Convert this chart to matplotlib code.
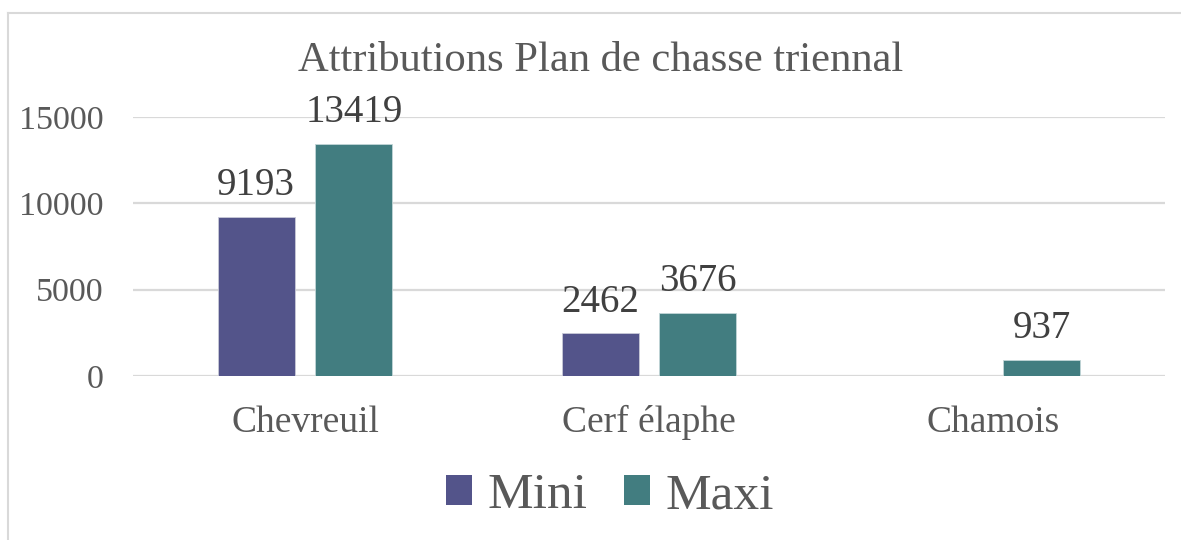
import matplotlib
matplotlib.use("Agg")
import matplotlib.pyplot as plt
from matplotlib.lines import Line2D
from matplotlib.patches import Patch
import numpy as np

categories = ["Chevreuil", "Cerf élaphe", "Chamois"]
mini = [9193, 2462, None]
maxi = [13419, 3676, 937]
yticks = [0, 5000, 10000, 15000]
titre = "Attributions Plan de chasse triennal"

couleur_mini = "#53548A"
couleur_maxi = "#427D80"
gris_texte = "#595959"
gris_grille = "#D9D9D9"

plt.rcParams["font.family"] = ["Liberation Serif", "DejaVu Serif"]

fig = plt.figure(figsize=(11.81, 5.4), dpi=100)
ax = fig.add_axes([0.1126, 0.3037, 0.8739, 0.4796])

x = np.arange(len(categories))
largeur = 0.224
decalage = 0.142
ecart_etiquette = 750

# barres, on saute les valeurs absentes
for i, v in enumerate(mini):
    if v is None:
        continue
    ax.bar(x[i] - decalage, v, largeur, color=couleur_mini, edgecolor="#C9CAD8", linewidth=0.6, zorder=3)
    ax.text(x[i] - decalage, v + ecart_etiquette, str(v), ha="center", va="bottom", fontsize=28, color="#404040")
for i, v in enumerate(maxi):
    ax.bar(x[i] + decalage, v, largeur, color=couleur_maxi, edgecolor="#C2D6D7", linewidth=0.6, zorder=3)
    ax.text(x[i] + decalage, v + ecart_etiquette, str(v), ha="center", va="bottom", fontsize=28, color="#404040")

ax.set_xlim(-0.5, 2.5)
ax.set_ylim(0, 15000)
ax.set_yticks(yticks)
ax.set_yticklabels([str(t) for t in yticks])
ax.set_xticks(x)
ax.set_xticklabels(categories)
ax.tick_params(axis="y", length=0, pad=21, labelsize=24.5, labelcolor=gris_texte)
ax.tick_params(axis="x", length=0, pad=21, labelsize=27, labelcolor=gris_texte)
ax.grid(axis="y", color=gris_grille, linewidth=1.6, zorder=0)
for s in ax.spines.values():
    s.set_visible(False)

fig.text(601 / 1181, 1 - 61 / 540, titre, ha="center", va="center", fontsize=30.7, color=gris_texte)

handles = [Patch(facecolor=couleur_mini, label="Mini"), Patch(facecolor=couleur_maxi, label="Maxi")]
fig.legend(handles=handles, loc="center", bbox_to_anchor=(610 / 1181, 1 - 496 / 540), ncol=2, frameon=False,
           fontsize=37, labelcolor=gris_texte, handlelength=0.5, handleheight=0.5,
           handletextpad=0.3, columnspacing=0.72)

# cadre du graphique (bords gauche et haut visibles)
fig.add_artist(Line2D([8 / 1181, 8 / 1181], [0, 1 - 13 / 540], color=gris_grille, linewidth=1.5))
fig.add_artist(Line2D([8 / 1181, 1.01], [1 - 13 / 540, 1 - 13 / 540], color=gris_grille, linewidth=1.5))

fig.savefig("out.png", dpi=100, facecolor="white")
